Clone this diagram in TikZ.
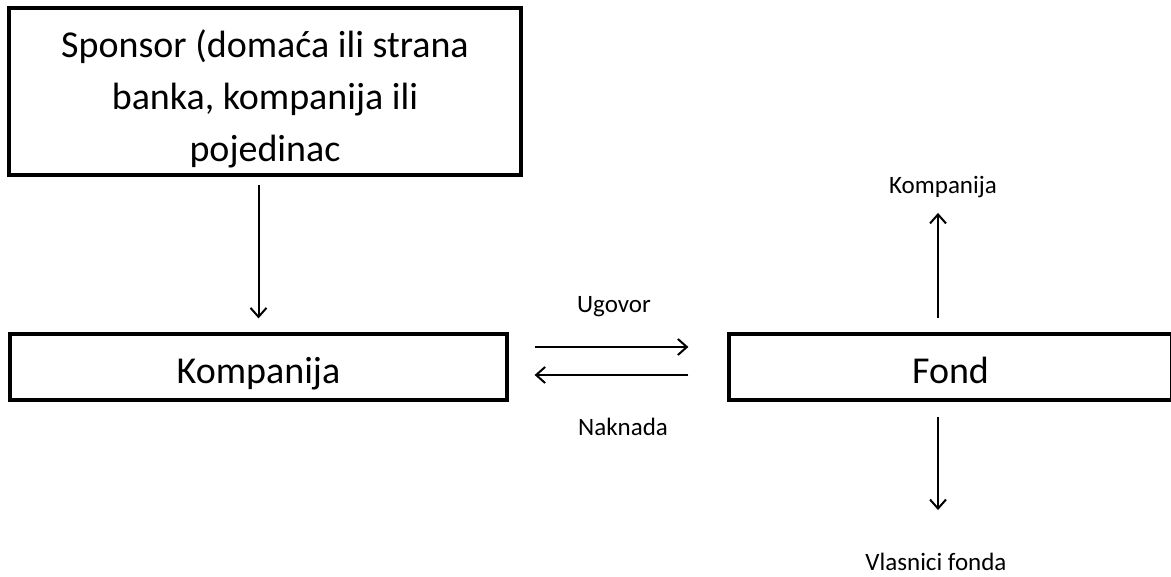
\documentclass[tikz,border=0pt]{standalone}
\usepackage{fontspec}
\setmainfont{Carlito}
\usetikzlibrary{arrows.meta, positioning, calc}
\tikzset{
    bigbox/.style={rectangle, draw=black, line width=3.2pt, align=center, inner sep=0pt},
    bigtext/.style={font=\fontsize{38}{50}\selectfont},
    smalllabel/.style={inner sep=0pt, font=\fontsize{25}{30}\selectfont},
    arrow/.style={line width=2pt, -{Straight Barb[length=9pt, width=16pt, line width=2pt]}}
}

\begin{document}
\begin{tikzpicture}[x=1pt, y=-1pt]
\useasboundingbox (0,0) rectangle (1171,577);

% Nodes
\node (sponsor) [bigbox, bigtext, minimum width=512pt, minimum height=167pt] at (265,91.5) {\rule{0pt}{42pt}Sponsor (domaća ili strana\\[2pt]banka, kompanija ili\\[2pt]pojedinac};
\node (kompanija) [bigbox, bigtext, minimum width=497pt, minimum height=66pt, text height=34pt, text depth=0pt] at (258.5,367) {Kompanija};
\node (fond) [bigbox, bigtext, minimum width=443pt, minimum height=66pt, text height=34pt, text depth=0pt] at (950.5,367) {Fond};
\node (ugovor) [smalllabel] at (614,307) {Ugovor};
\node (naknada) [smalllabel] at (623,427) {Naknada};
\node (kompTop) [smalllabel] at (943,187) {Kompanija};
\node (vlasnici) [smalllabel] at (936,562) {Vlasnici fonda};
\coordinate (fondUp) at ([xshift=-12.5pt]fond.north);
\coordinate (fondDown) at ([xshift=-12.5pt]fond.south);

% Arrows
\draw [arrow, shorten <=8pt, shorten >=14pt] (sponsor.south -| kompanija.north) -- (kompanija.north);
\draw [arrow, shorten <=26pt, shorten >=39pt] ([yshift=20pt]kompanija.east) -- ([yshift=20pt]fond.west);
\draw [arrow, shorten <=39pt, shorten >=26pt] ([yshift=-8pt]fond.west) -- ([yshift=-8pt]kompanija.east);
\draw [arrow, shorten <=14pt, shorten >=15pt] (fondUp) -- (fondUp |- kompTop.south);
\draw [arrow, shorten <=15pt, shorten >=43pt] (fondDown) -- (fondDown |- vlasnici.north);

\end{tikzpicture}
\end{document}
